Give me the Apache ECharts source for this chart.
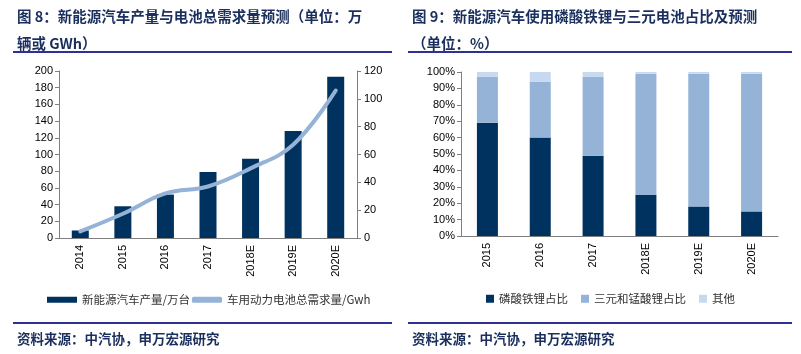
<!DOCTYPE html>
<html>
<head>
<meta charset="utf-8">
<script src="https://cdn.jsdelivr.net/npm/echarts@6/dist/echarts.min.js"></script>
<style>
  html, body { margin: 0; padding: 0; background: #fff; }
  #main { width: 801px; height: 354px; }
</style>
</head>
<body>
<div id="main"></div>
<script>
// left chart: NEV output and battery demand
const yearsLeft = ['2014', '2015', '2016', '2017', '2018E', '2019E', '2020E']
const nevOutput = [9, 38, 52, 79, 95, 128, 193]
const batteryDemand = [4.7, 17.4, 32, 37, 50, 67, 106]

// right chart: battery type share
const yearsRight = ['2015', '2016', '2017', '2018E', '2019E', '2020E']
const lfpShare = [69, 60, 49, 25, 18, 15]
const ternaryShare = [28, 34, 48, 74, 81, 84]
const otherShare = [3, 6, 3, 1, 1, 1]

const navy = '#00325F'
const midBlue = '#95B3D7'
const lightBlue = '#C6D9F1'
const titleColor = '#1B2F5E'
const ruleColor = '#2E3192'
const cjk = '"Noto Sans CJK SC", sans-serif'
const latin = '"Liberation Sans", Arial, sans-serif'

const axisLine = { lineStyle: { color: '#808080', width: 1 } }
const axisTick = { lineStyle: { color: '#808080' }, length: 4 }
const numLabel = { fontFamily: latin, fontSize: 11, color: '#000' }
const titleText = { fontFamily: cjk, fontSize: 14.5, fontWeight: 'bold', color: titleColor, lineHeight: 27 }
const sourceText = { fontFamily: cjk, fontSize: 13.5, fontWeight: 'bold', color: titleColor }

const chart = echarts.init(document.getElementById('main'))

chart.setOption({
  animation: false,
  title: [
    { text: '图 8：新能源汽车产量与电池总需求量预测（单位：万\n辆或 GWh）', left: 12, top: -2, textStyle: titleText },
    { text: '图 9：新能源汽车使用磷酸铁锂与三元电池占比及预测\n（单位：%）', left: 407, top: -2, textStyle: titleText },
    { text: '资料来源：中汽协，申万宏源研究', left: 12, top: 327, textStyle: sourceText },
    { text: '资料来源：中汽协，申万宏源研究', left: 407, top: 327, textStyle: sourceText }
  ],
  graphic: [
    { type: 'rect', shape: { x: 13, y: 51, width: 379, height: 2 }, style: { fill: ruleColor } },
    { type: 'rect', shape: { x: 408, y: 51, width: 384, height: 2 }, style: { fill: ruleColor } },
    { type: 'rect', shape: { x: 13, y: 322, width: 379, height: 2 }, style: { fill: ruleColor } },
    { type: 'rect', shape: { x: 408, y: 322, width: 384, height: 2 }, style: { fill: ruleColor } }
  ],
  legend: [
    {
      left: 42, top: 289,
      itemWidth: 30, itemHeight: 6, itemGap: 2,
      textStyle: { fontFamily: cjk, fontSize: 11.5, color: '#333' },
      data: [
        { name: '新能源汽车产量/万台', icon: 'rect' },
        { name: '车用动力电池总需求量/Gwh', icon: 'roundRect' }
      ]
    },
    {
      left: 481, top: 288,
      itemWidth: 8, itemHeight: 8, itemGap: 13,
      textStyle: { fontFamily: cjk, fontSize: 11.5, color: '#333' },
      data: [
        { name: '磷酸铁锂占比', icon: 'rect' },
        { name: '三元和锰酸锂占比', icon: 'rect' },
        { name: '其他', icon: 'rect' }
      ]
    }
  ],
  grid: [
    { left: 59, right: 444, top: 71, bottom: 116 },
    { left: 461, right: 23, top: 72, bottom: 118 }
  ],
  xAxis: [
    {
      type: 'category', gridIndex: 0, data: yearsLeft,
      axisLine, axisTick,
      axisLabel: { ...numLabel, rotate: 90, margin: 7 }
    },
    {
      type: 'category', gridIndex: 1, data: yearsRight,
      axisLine, axisTick,
      axisLabel: { ...numLabel, rotate: 90, margin: 7 }
    }
  ],
  yAxis: [
    {
      type: 'value', gridIndex: 0, min: 0, max: 200, interval: 20,
      axisLine: { show: true, ...axisLine }, axisTick: { show: true, ...axisTick },
      splitLine: { show: false },
      axisLabel: { ...numLabel, margin: 6 }
    },
    {
      type: 'value', gridIndex: 0, position: 'right', min: 0, max: 120, interval: 20,
      axisLine: { show: true, ...axisLine }, axisTick: { show: true, ...axisTick },
      splitLine: { show: false },
      axisLabel: { ...numLabel, margin: 7 }
    },
    {
      type: 'value', gridIndex: 1, min: 0, max: 100, interval: 10,
      axisLine: { show: true, ...axisLine }, axisTick: { show: true, ...axisTick },
      splitLine: { show: false },
      axisLabel: { ...numLabel, margin: 6, formatter: '{value}%' }
    }
  ],
  series: [
    {
      name: '新能源汽车产量/万台', type: 'bar',
      xAxisIndex: 0, yAxisIndex: 0,
      data: nevOutput, barWidth: 17,
      itemStyle: { color: navy }
    },
    {
      name: '车用动力电池总需求量/Gwh', type: 'line',
      xAxisIndex: 0, yAxisIndex: 1,
      data: batteryDemand, smooth: 0.4, symbol: 'none',
      lineStyle: { color: midBlue, width: 4, cap: 'round' },
      itemStyle: { color: midBlue }
    },
    {
      name: '磷酸铁锂占比', type: 'bar', stack: 'share',
      xAxisIndex: 1, yAxisIndex: 2,
      data: lfpShare, barWidth: 21,
      itemStyle: { color: navy }
    },
    {
      name: '三元和锰酸锂占比', type: 'bar', stack: 'share',
      xAxisIndex: 1, yAxisIndex: 2,
      data: ternaryShare, barWidth: 21,
      itemStyle: { color: midBlue }
    },
    {
      name: '其他', type: 'bar', stack: 'share',
      xAxisIndex: 1, yAxisIndex: 2,
      data: otherShare, barWidth: 21,
      itemStyle: { color: lightBlue }
    }
  ]
})

window.addEventListener('resize', () => chart.resize())
</script>
</body>
</html>
